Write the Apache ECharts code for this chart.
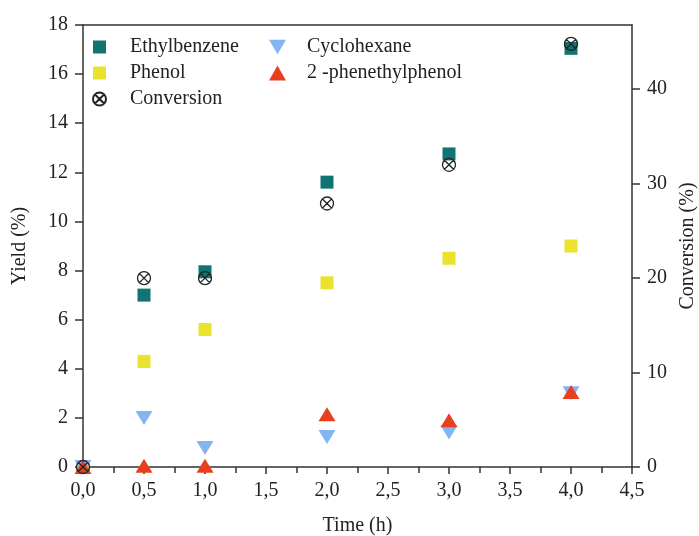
<!DOCTYPE html>
<html>
<head>
    <meta charset="utf-8" />
    <title></title>
    <script src="https://cdn.jsdelivr.net/npm/echarts@6/dist/echarts.min.js"></script>
</head>
<body style="margin:0">
    <div id="main" style="width: 699px;height:536px;"></div>
    <script type="text/javascript">
        // 时间 (h)
        var time = [0, 0.5, 1, 2, 3, 4];
        // 产率 (%)
        var ethylbenzene = [0, 7.0, 7.95, 11.6, 12.75, 17.05];
        var phenol = [0, 4.3, 5.6, 7.5, 8.5, 9.0];
        var cyclohexane = [0, 2.0, 0.77, 1.22, 1.4, 3.0];
        var phenethylphenol = [0, 0.05, 0.05, 2.15, 1.9, 3.05];
        // 转化率 (%)
        var conversion = [0, 20.0, 20.0, 27.9, 32.0, 44.8];

        function pairs(ys) {
            var out = [];
            for (var i = 0; i < time.length; i++) {
                out.push([time[i], ys[i]]);
            }
            return out;
        }

        var font = 'Liberation Serif';
        var axisCol = '#333';
        var convSymbol = 'path://M0,10 A10,10 0 1,1 20,10 A10,10 0 1,1 0,10 Z M3,3 L17,17 M17,3 L3,17';
        var downTri = 'path://M0,0 L20,0 L10,17 Z';

        var myChart = echarts.init(document.getElementById('main'));
        var option = {
            animation: false,
            grid: { left: 83, right: 67, top: 25, bottom: 69, outerBoundsMode: 'none', containLabel: false },
            legend: [{
                data: ['Ethylbenzene', 'Phenol', 'Conversion'],
                orient: 'vertical',
                left: 87, top: 32,
                itemWidth: 13, itemHeight: 13, itemGap: 6,
                textStyle: { fontFamily: font, fontSize: 20, color: '#222', padding: [0, 0, 0, 19] }
            }, {
                data: [{ name: 'Cyclohexane', icon: downTri }, '2 -phenethylphenol'],
                orient: 'vertical',
                left: 264, top: 32,
                itemWidth: 17, itemHeight: 15, itemGap: 6,
                textStyle: { fontFamily: font, fontSize: 20, color: '#222', padding: [0, 0, 0, 16] }
            }],
            xAxis: [{
                type: 'value',
                min: 0, max: 4.5, interval: 0.5,
                name: 'Time (h)',
                nameLocation: 'middle',
                nameGap: 49,
                nameTextStyle: { fontFamily: font, fontSize: 20, color: '#222' },
                axisLine: { onZero: false, lineStyle: { color: axisCol, width: 1.5 } },
                axisTick: { length: 7, lineStyle: { color: axisCol, width: 1.5 } },
                minorTick: { show: true, splitNumber: 2, length: 6, lineStyle: { color: axisCol, width: 1.5 } },
                splitLine: { show: false },
                axisLabel: {
                    fontFamily: font, fontSize: 20, color: '#222', margin: 14,
                    formatter: function (v) { return v.toFixed(1).replace('.', ','); }
                }
            }, {
                type: 'value', position: 'top',
                min: 0, max: 4.5,
                axisLine: { show: true, onZero: false, lineStyle: { color: axisCol, width: 1.5 } },
                axisTick: { show: false },
                axisLabel: { show: false },
                splitLine: { show: false }
            }],
            yAxis: [{
                type: 'value',
                min: 0, max: 18, interval: 2,
                name: 'Yield (%)',
                nameLocation: 'middle',
                nameGap: 53,
                nameRotate: 90,
                nameTextStyle: { fontFamily: font, fontSize: 20, color: '#222' },
                axisLine: { show: true, onZero: false, lineStyle: { color: axisCol, width: 1.5 } },
                axisTick: { show: true, length: 8, lineStyle: { color: axisCol, width: 1.5 } },
                splitLine: { show: false },
                axisLabel: { fontFamily: font, fontSize: 20, color: '#222', margin: 15 }
            }, {
                type: 'value',
                min: 0, max: 46.8, interval: 10,
                position: 'right',
                name: 'Conversion (%)',
                nameLocation: 'middle',
                nameGap: 46,
                nameRotate: 90,
                nameTextStyle: { fontFamily: font, fontSize: 20, color: '#222' },
                axisLine: { show: true, onZero: false, lineStyle: { color: axisCol, width: 1.5 } },
                axisTick: { show: true, length: 8, lineStyle: { color: axisCol, width: 1.5 } },
                splitLine: { show: false },
                axisLabel: { fontFamily: font, fontSize: 20, color: '#222', margin: 15, showMaxLabel: false }
            }],
            series: [{
                name: 'Ethylbenzene', type: 'scatter',
                symbol: 'rect', symbolSize: 13,
                itemStyle: { color: '#0f7572', opacity: 1 },
                clip: false,
                data: pairs(ethylbenzene)
            }, {
                name: 'Phenol', type: 'scatter',
                symbol: 'rect', symbolSize: 13,
                itemStyle: { color: '#ebe22e', opacity: 1 },
                clip: false,
                data: pairs(phenol)
            }, {
                name: 'Cyclohexane', type: 'scatter',
                symbol: 'triangle', symbolRotate: 180, symbolSize: [17, 14],
                itemStyle: { color: '#84b4f2', opacity: 1 },
                clip: false,
                data: pairs(cyclohexane)
            }, {
                name: '2 -phenethylphenol', type: 'scatter',
                symbol: 'triangle', symbolSize: [17, 14],
                itemStyle: { color: '#e8401e', opacity: 1 },
                clip: false,
                data: pairs(phenethylphenol)
            }, {
                name: 'Conversion', type: 'scatter',
                yAxisIndex: 1,
                symbol: convSymbol, symbolSize: 13,
                itemStyle: { color: 'rgba(0,0,0,0)', borderColor: '#222', borderWidth: 1.3, opacity: 1 },
                clip: false,
                data: pairs(conversion)
            }]
        };
        myChart.setOption(option);
    </script>
</body>
</html>
